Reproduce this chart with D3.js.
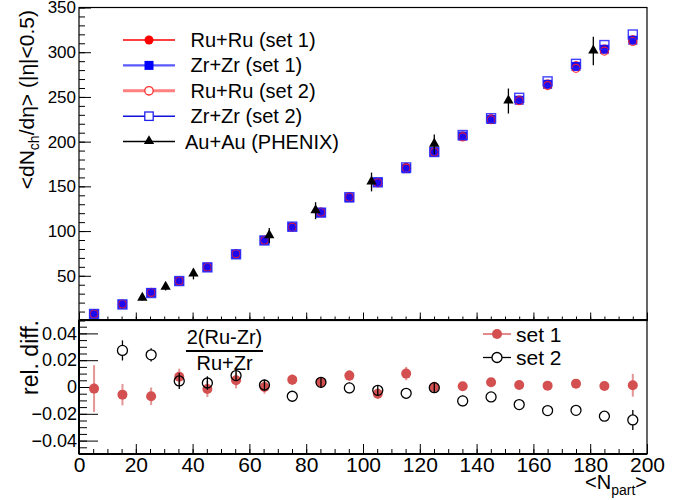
<!DOCTYPE html>
<html>
<head>
<meta charset="utf-8">
<script src="https://cdn.jsdelivr.net/npm/d3@7"></script>
<style>
  html, body { margin: 0; padding: 0; background: #fff; }
  svg { display: block; font-family: "Liberation Sans", Arial, Helvetica, sans-serif; }
</style>
</head>
<body>
<svg id="chart" width="690" height="500"></svg>
<script>
// <Npart> bin centres shared by the isobar model curves
const npart = [5.3, 15.3, 25.4, 35.3, 45.2, 55.3, 65.3, 75.1, 85.2, 95.2,
               105.2, 115.2, 125.1, 135.1, 145.1, 155.0, 165.0, 175.0, 185.0, 195.0];

// <dNch/deta> at mid-rapidity for each system / parameter set
const ruSet1 = [7.3, 18.1, 31.0, 44.3, 59.4, 74.4, 89.6, 105.1, 121.2, 138.3,
                154.0, 171.3, 188.4, 206.3, 225.6, 246.7, 264.4, 284.8, 303.5, 313.8];
const zrSet1 = [7.3, 18.2, 31.2, 44.0, 59.5, 74.0, 89.6, 104.5, 120.8, 137.1,
                154.8, 169.6, 188.4, 206.2, 224.8, 246.3, 264.1, 284.1, 303.3, 313.4];
const ruSet2 = [7.3, 18.4, 31.4, 44.3, 59.6, 74.6, 89.6, 104.3, 121.0, 137.8,
                154.1, 170.4, 188.3, 205.3, 224.5, 245.7, 262.7, 282.0, 301.3, 312.0];
const zrSet2 = [7.3, 17.9, 30.7, 44.1, 59.4, 74.0, 89.5, 105.0, 120.6, 137.9,
                154.5, 171.2, 188.4, 207.4, 226.2, 249.0, 267.4, 287.0, 308.0, 319.8];

// Au+Au 200 GeV measurement (PHENIX)
const auNpart = [22.3, 30.5, 40.3, 67.0, 83.3, 103.0, 125.1, 151.2, 181.1];
const auDndeta = [24.8, 37.1, 52.0, 94.8, 122.8, 154.9, 197.0, 245.4, 301.3];
const auErr = [2.5, 3.5, 6.0, 8.5, 9.5, 10.5, 11.0, 14.0, 16.0];

// Relative difference 2(Ru-Zr)/(Ru+Zr) and its uncertainty
const relSet1 = [-0.0012, -0.0057, -0.0069, 0.0077, -0.0015, 0.0050, 0.0000, 0.0055, 0.0035, 0.0085,
                 -0.0050, 0.0100, 0.0000, 0.0005, 0.0035, 0.0015, 0.0010, 0.0025, 0.0008, 0.0013];
const relErr1 = [0.0175, 0.0080, 0.0065, 0.0060, 0.0060, 0.0060, 0.0050, 0.0040, 0.0040, 0.0040,
                 0.0040, 0.0050, 0.0040, 0.0030, 0.0030, 0.0020, 0.0020, 0.0020, 0.0020, 0.0085];
const relSet2 = [null, 0.0273, 0.0240, 0.0045, 0.0030, 0.0085, 0.0015, -0.0069, 0.0035, -0.0007,
                 -0.0025, -0.0047, -0.0005, -0.0104, -0.0074, -0.0131, -0.0176, -0.0174, -0.0218, -0.0246];
const relErr2 = [null, 0.0075, 0.0050, 0.0060, 0.0050, 0.0040, 0.0040, 0.0040, 0.0040, 0.0040,
                 0.0040, 0.0040, 0.0040, 0.0040, 0.0030, 0.0030, 0.0020, 0.0020, 0.0020, 0.0075];

// Axis ticks
const xMajor = [0, 20, 40, 60, 80, 100, 120, 140, 160, 180, 200];
const xMinor = d3.range(0, 201, 5);
const yTopMajor = [50, 100, 150, 200, 250, 300, 350];
const yTopMinor = d3.range(0, 351, 10);
const yBotMajor = [-0.04, -0.02, 0, 0.02, 0.04];
const yBotMinor = d3.range(-50, 51, 5).map(v => v / 1000);

const svg = d3.select("#chart");

const L = 79, R = 647;
const upT = 7.5, upB = 320.5;
const loT = 320, loB = 454;

const x = d3.scaleLinear().domain([0, 200]).range([L, R]);
const yUp = d3.scaleLinear().domain([0, 350]).range([upB, upT]);
const yLo = d3.scaleLinear().domain([-0.05, 0.05]).range([loB, loT]);

function stripDomain(g) { g.select(".domain").remove(); }
function labelStyle(size) {
  return g => g.selectAll("text").attr("font-size", size).attr("fill", "#000")
    .attr("font-family", "Liberation Sans, Arial, sans-serif");
}

// ---------- upper pad ----------
const upperPad = svg.append("g");

upperPad.append("g").attr("transform", `translate(${L},0)`)
  .call(d3.axisLeft(yUp).tickValues(yTopMinor).tickSize(-6).tickFormat(""))
  .call(stripDomain);
upperPad.append("g").attr("transform", `translate(${L},0)`)
  .call(d3.axisLeft(yUp).tickValues(yTopMajor).tickSize(-12).tickPadding(3).tickFormat(d3.format("d")))
  .call(stripDomain)
  .call(labelStyle(17));
upperPad.append("g").attr("transform", `translate(0,${upB})`)
  .call(d3.axisBottom(x).tickValues(xMinor).tickSize(-4).tickFormat(""))
  .call(stripDomain);
upperPad.append("g").attr("transform", `translate(0,${upB})`)
  .call(d3.axisBottom(x).tickValues(xMajor).tickSize(-8).tickFormat(""))
  .call(stripDomain);

upperPad.append("rect").attr("x", L).attr("y", upT).attr("width", R - L).attr("height", upB - upT)
  .attr("fill", "none").attr("stroke", "#000").attr("stroke-width", 1.2);

// model points
const pts = npart.map((n, i) => ({ n, ru1: ruSet1[i], zr1: zrSet1[i], ru2: ruSet2[i], zr2: zrSet2[i] }));
const ms = 4.5;

upperPad.append("g").selectAll("circle").data(pts).join("circle")
  .attr("cx", d => x(d.n)).attr("cy", d => yUp(d.ru1)).attr("r", ms)
  .attr("fill", "#ff0000");
upperPad.append("g").selectAll("rect").data(pts).join("rect")
  .attr("x", d => x(d.n) - ms).attr("y", d => yUp(d.zr1) - ms)
  .attr("width", 2 * ms).attr("height", 2 * ms)
  .attr("fill", "#0a0aff").attr("fill-opacity", 0.92);
upperPad.append("g").selectAll("circle").data(pts).join("circle")
  .attr("cx", d => x(d.n)).attr("cy", d => yUp(d.ru2)).attr("r", ms - 0.5)
  .attr("fill", "none").attr("stroke", "#ff2020").attr("stroke-width", 1.2).attr("stroke-opacity", 0.85);
upperPad.append("g").selectAll("rect").data(pts).join("rect")
  .attr("x", d => x(d.n) - ms).attr("y", d => yUp(d.zr2) - ms)
  .attr("width", 2 * ms).attr("height", 2 * ms)
  .attr("fill", "none").attr("stroke", "#2020ff").attr("stroke-width", 1.4).attr("stroke-opacity", 0.85);

// PHENIX Au+Au
const au = auNpart.map((n, i) => ({ n, v: auDndeta[i], e: auErr[i] }));
const tri = d3.symbol().type(d3.symbolTriangle).size(46);
const auG = upperPad.append("g");
auG.selectAll("line").data(au).join("line")
  .attr("x1", d => x(d.n)).attr("x2", d => x(d.n))
  .attr("y1", d => yUp(d.v - d.e)).attr("y2", d => yUp(d.v + d.e))
  .attr("stroke", "#000").attr("stroke-width", 1.3);
auG.selectAll("path").data(au).join("path")
  .attr("d", tri).attr("transform", d => `translate(${x(d.n)},${yUp(d.v) - 0.5})`)
  .attr("fill", "#000");

// upper legend
const legendTop = [
  { label: " Ru+Ru (set 1)", line: "#ff0000", lw: 1.5, marker: "fcircle", color: "#ff0000" },
  { label: " Zr+Zr (set 1)", line: "#5a5aff", lw: 2.2, marker: "fsquare", color: "#0000ff" },
  { label: " Ru+Ru (set 2)", line: "#ff8080", lw: 3, marker: "ocircle", color: "#ff3030" },
  { label: " Zr+Zr (set 2)", line: "#1010dd", lw: 1.5, marker: "osquare", color: "#2020ee" },
  { label: "Au+Au (PHENIX)", line: "#000000", lw: 1.5, marker: "tri", color: "#000" }
];
const lg = upperPad.append("g");
legendTop.forEach((e, i) => {
  const cy = 40 + i * 25.4;
  const g = lg.append("g");
  g.append("line").attr("x1", 123).attr("x2", 175).attr("y1", cy).attr("y2", cy)
    .attr("stroke", e.line).attr("stroke-width", e.lw);
  const mx = 149;
  if (e.marker === "fcircle") g.append("circle").attr("cx", mx).attr("cy", cy).attr("r", 4.5).attr("fill", e.color);
  if (e.marker === "ocircle") g.append("circle").attr("cx", mx).attr("cy", cy).attr("r", 4.2).attr("fill", "#fff").attr("stroke", e.color).attr("stroke-width", 1.3);
  if (e.marker === "fsquare") g.append("rect").attr("x", mx - 4.5).attr("y", cy - 4.5).attr("width", 9).attr("height", 9).attr("fill", e.color);
  if (e.marker === "osquare") g.append("rect").attr("x", mx - 4.2).attr("y", cy - 4.2).attr("width", 8.4).attr("height", 8.4).attr("fill", "#fff").attr("stroke", e.color).attr("stroke-width", 1.3);
  if (e.marker === "tri") g.append("path").attr("d", tri).attr("transform", `translate(${mx},${cy - 0.5})`).attr("fill", "#000");
  g.append("text").attr("x", 185).attr("y", cy + 7).attr("font-size", 20)
    .attr("fill", "#000").style("white-space", "pre").text(e.label);
});

// y title
const yt = svg.append("text").attr("transform", "translate(34,10) rotate(-90)")
  .attr("text-anchor", "end").attr("font-size", 21).attr("fill", "#000");
yt.append("tspan").text("<dN");
yt.append("tspan").attr("font-size", 14).attr("dy", 5).text("ch");
yt.append("tspan").attr("dy", -5).text("/dη> (|η|<0.5)");

// ---------- lower pad ----------
const lowerPad = svg.append("g");
lowerPad.append("g").attr("transform", `translate(${L},0)`)
  .call(d3.axisLeft(yLo).tickValues(yBotMinor).tickSize(-8).tickFormat(""))
  .call(stripDomain);
lowerPad.append("g").attr("transform", `translate(${L},0)`)
  .call(d3.axisLeft(yLo).tickValues(yBotMajor).tickSize(-19).tickPadding(2)
    .tickFormat(d => d === 0 ? "0" : d3.format(".2f")(d)))
  .call(stripDomain)
  .call(labelStyle(18));
lowerPad.append("g").attr("transform", `translate(0,${loB})`)
  .call(d3.axisBottom(x).tickValues(xMinor).tickSize(-5).tickFormat(""))
  .call(stripDomain);
lowerPad.append("g").attr("transform", `translate(0,${loB})`)
  .call(d3.axisBottom(x).tickValues(xMajor).tickSize(-10).tickPadding(3).tickFormat(d3.format("d")))
  .call(stripDomain)
  .call(labelStyle(21));

svg.selectAll(".tick line").attr("stroke", "#000").attr("stroke-width", 1);

lowerPad.append("rect").attr("x", L).attr("y", loT).attr("width", R - L).attr("height", loB - loT)
  .attr("fill", "none").attr("stroke", "#000").attr("stroke-width", 1.2);
lowerPad.append("line").attr("x1", L).attr("x2", L).attr("y1", loT).attr("y2", loB).attr("stroke", "#000").attr("stroke-width", 2);
lowerPad.append("line").attr("x1", L).attr("x2", R).attr("y1", loB).attr("y2", loB).attr("stroke", "#000").attr("stroke-width", 2);
lowerPad.append("line").attr("x1", L).attr("x2", R).attr("y1", loT).attr("y2", loT).attr("stroke", "#000").attr("stroke-width", 2);

const s1 = npart.map((n, i) => ({ n, v: relSet1[i], e: relErr1[i] }));
const s2 = npart.map((n, i) => ({ n, v: relSet2[i], e: relErr2[i], under: relSet1[i] }))
  .filter(d => d.v !== null);
const red = "#d44f4f";

lowerPad.append("g").selectAll("line").data(s1).join("line")
  .attr("x1", d => x(d.n)).attr("x2", d => x(d.n))
  .attr("y1", d => yLo(d.v - d.e)).attr("y2", d => yLo(d.v + d.e))
  .attr("stroke", red).attr("stroke-opacity", 0.6).attr("stroke-width", 2);
lowerPad.append("g").selectAll("circle").data(s1).join("circle")
  .attr("cx", d => x(d.n)).attr("cy", d => yLo(d.v)).attr("r", 5)
  .attr("fill", red);

lowerPad.append("g").selectAll("line").data(s2).join("line")
  .attr("x1", d => x(d.n)).attr("x2", d => x(d.n))
  .attr("y1", d => yLo(d.v - d.e)).attr("y2", d => yLo(d.v + d.e))
  .attr("stroke", "#000").attr("stroke-width", 1.3);
// open markers: hollow where a set-1 marker sits underneath, white otherwise
lowerPad.append("g").selectAll("circle").data(s2).join("circle")
  .attr("cx", d => x(d.n)).attr("cy", d => yLo(d.v)).attr("r", 5)
  .attr("fill", "#fff")
  .attr("fill-opacity", d => Math.abs(yLo(d.under) - yLo(d.v)) < 10 ? 0 : 1)
  .attr("stroke", "#000").attr("stroke-width", 1.3);

// ratio formula
const fx = 224.5;
lowerPad.append("text").attr("x", fx).attr("y", 344).attr("text-anchor", "middle")
  .attr("font-size", 20).attr("fill", "#000").text("2(Ru-Zr)");
lowerPad.append("line").attr("x1", 186).attr("x2", 263).attr("y1", 351).attr("y2", 351)
  .attr("stroke", "#000").attr("stroke-width", 2);
lowerPad.append("text").attr("x", fx).attr("y", 369.5).attr("text-anchor", "middle")
  .attr("font-size", 20).attr("fill", "#000").text("Ru+Zr");

// lower legend
const legendBot = [
  { label: "set 1", cy: 334, type: "f" },
  { label: "set 2", cy: 357.5, type: "o" }
];
legendBot.forEach(e => {
  const g = lowerPad.append("g");
  g.append("line").attr("x1", 483).attr("x2", 511).attr("y1", e.cy).attr("y2", e.cy)
    .attr("stroke", e.type === "f" ? "#e48a8a" : "#000").attr("stroke-width", e.type === "f" ? 2 : 1.3);
  if (e.type === "f") g.append("circle").attr("cx", 497).attr("cy", e.cy).attr("r", 5).attr("fill", red);
  else g.append("circle").attr("cx", 497).attr("cy", e.cy).attr("r", 5).attr("fill", "#fff").attr("stroke", "#000").attr("stroke-width", 1.3);
  g.append("text").attr("x", 516).attr("y", e.cy + 7.5).attr("font-size", 21).attr("fill", "#000").text(e.label);
});

// lower y title
svg.append("text").attr("transform", "translate(38,320) rotate(-90)")
  .attr("text-anchor", "end").attr("font-size", 23).attr("fill", "#000").text("rel. diff.");

// x title
const xt = svg.append("text").attr("x", R).attr("y", 489).attr("text-anchor", "end")
  .attr("font-size", 20).attr("fill", "#000");
xt.append("tspan").text("<N");
xt.append("tspan").attr("font-size", 14).attr("dy", 6).text("part");
xt.append("tspan").attr("dy", -6).text(">");
</script>
</body>
</html>
